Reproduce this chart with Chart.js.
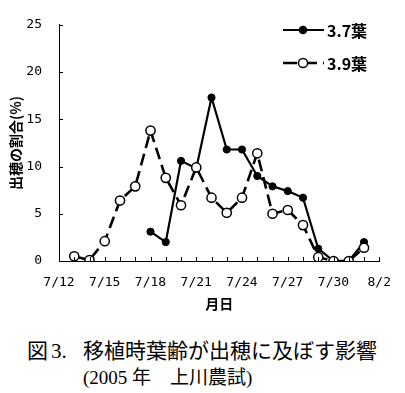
<!DOCTYPE html>
<html>
<head>
<meta charset="utf-8">
<script src="https://cdn.jsdelivr.net/npm/chart.js@4"></script>
<style>
body { margin: 0; background: #fff; width: 405px; height: 393px; position: relative; overflow: hidden; }
#wrap { position: absolute; left: 0; top: 0; width: 405px; height: 320px; }
.cap { position: absolute; color: #000; white-space: pre; line-height: 1; font-family: "Liberation Serif", "Noto Sans CJK JP", serif; }
</style>
</head>
<body>
<div id="wrap"><canvas id="chart"></canvas></div>
<div class="cap" style="left:27px;top:341px;font-size:21px">図</div>
<div class="cap" style="left:51px;top:341px;font-size:21px">3.</div>
<div class="cap" style="left:83px;top:341px;font-size:21px">移植時葉齢が出穂に及ぼす影響</div>
<div class="cap" style="left:83px;top:368px;font-size:19px">(2005 年　上川農試)</div>
<script>
// dates of observation (month/day)
const dateLabels = ['7/13', '7/14', '7/15', '7/16', '7/17', '7/18', '7/19', '7/20', '7/21', '7/22',
                    '7/23', '7/24', '7/25', '7/26', '7/27', '7/28', '7/29', '7/30', '7/31', '8/1'];
// share of heading (%) per day
const leaf37 = [null, null, null, null, null, 3.1, 2.0, 10.6, 9.8, 17.3,
                11.8, 11.8, 9.0, 7.9, 7.4, 6.7, 1.3, 0, 0, 2.0];
const leaf39 = [0.5, 0.1, 2.1, 6.4, 7.9, 13.8, 8.8, 5.9, 9.9, 6.7,
                5.1, 6.7, 11.4, 5.0, 5.4, 3.8, 0.4, 0, 0, 1.4];
const xTickLabels = ['7/12', '7/15', '7/18', '7/21', '7/24', '7/27', '7/30', '8/2'];
const yTicks = [0, 5, 10, 15, 20, 25];
const seriesNames = ['3.7葉', '3.9葉'];

// month/day -> day number counted from July 1st
function toDay(label) {
    const parts = label.split('/').map(Number);
    return parts[0] === 7 ? parts[1] : 31 + parts[1];
}

function toPoints(values) {
    return dateLabels.map((d, i) => ({ x: toDay(d), y: values[i] }));
}

const tickFont = { family: 'DejaVu Sans Mono', size: 13 };

// inward tick marks and the hand drawn legend
const extras = {
    id: 'extras',
    afterDraw(chart) {
        const { ctx, chartArea, scales } = chart;
        const x = scales.x, y = scales.y;
        ctx.save();
        ctx.strokeStyle = '#000';
        ctx.lineWidth = 1;
        ctx.beginPath();
        for (let d = x.min; d <= x.max; d++) {
            const px = Math.round(x.getPixelForValue(d)) + 0.5;
            ctx.moveTo(px, chartArea.bottom);
            ctx.lineTo(px, chartArea.bottom - 4);
        }
        yTicks.forEach(v => {
            const py = Math.round(y.getPixelForValue(v)) + 0.5;
            ctx.moveTo(chartArea.left, py);
            ctx.lineTo(chartArea.left + 4, py);
        });
        ctx.stroke();

        // legend
        const rows = [
            { y: 30, dash: [], r: 3.6, fill: '#000', width: 2.2 },
            { y: 63, dash: [14, 6], r: 4.6, fill: '#fff', width: 2.6 }
        ];
        rows.forEach((row, i) => {
            ctx.beginPath();
            ctx.setLineDash(row.dash);
            ctx.lineWidth = row.width;
            ctx.moveTo(283, row.y);
            ctx.lineTo(324, row.y);
            ctx.stroke();
            ctx.setLineDash([]);
            ctx.beginPath();
            ctx.arc(303, row.y, row.r, 0, Math.PI * 2);
            ctx.fillStyle = row.fill;
            ctx.fill();
            ctx.lineWidth = 1.5;
            ctx.stroke();
            ctx.fillStyle = '#000';
            ctx.font = 'bold 16px "Noto Sans CJK JP"';
            ctx.textBaseline = 'middle';
            ctx.fillText(seriesNames[i], 327, row.y + 1);
        });
        ctx.restore();
    }
};

new Chart(document.getElementById('chart'), {
    type: 'line',
    data: {
        datasets: [
            {
                label: seriesNames[0],
                data: toPoints(leaf37),
                borderColor: '#000',
                borderWidth: 2.2,
                pointRadius: 3.6,
                pointBackgroundColor: '#000',
                pointBorderColor: '#000',
                pointBorderWidth: 1,
                spanGaps: false,
                order: 1
            },
            {
                label: seriesNames[1],
                data: toPoints(leaf39),
                borderColor: '#000',
                borderWidth: 2.6,
                borderDash: [12, 6],
                pointRadius: 4.6,
                pointBackgroundColor: '#fff',
                pointBorderColor: '#000',
                pointBorderWidth: 1.5,
                order: 0
            }
        ]
    },
    options: {
        responsive: true,
        maintainAspectRatio: false,
        animation: false,
        layout: { padding: { top: 14, right: 21, left: 0, bottom: 0 } },
        plugins: {
            legend: { display: false },
            tooltip: { enabled: false }
        },
        scales: {
            x: {
                type: 'linear',
                min: toDay(xTickLabels[0]),
                max: toDay(xTickLabels[xTickLabels.length - 1]),
                afterFit: scale => { scale.height = 59; },
                grid: { display: true, drawOnChartArea: false, drawTicks: false, tickLength: 0 },
                border: { display: true, color: '#000', width: 1 },
                ticks: {
                    stepSize: 1,
                    autoSkip: false,
                    maxRotation: 0,
                    padding: 14,
                    color: '#000',
                    font: tickFont,
                    callback: v => {
                        const hit = xTickLabels.find(l => toDay(l) === v);
                        return hit || '';
                    }
                },
                title: {
                    display: true,
                    text: '月日',
                    color: '#000',
                    font: { family: 'Noto Sans CJK JP', size: 14, weight: 'bold' },
                    padding: { top: 0, bottom: 8 }
                }
            },
            y: {
                min: 0,
                max: 25,
                afterFit: scale => { scale.width = 59; },
                grid: { display: true, drawOnChartArea: false, drawTicks: false, tickLength: 0 },
                border: { display: true, color: '#000', width: 1 },
                ticks: {
                    stepSize: 5,
                    padding: 17,
                    color: '#000',
                    font: tickFont
                },
                title: {
                    display: true,
                    text: '出穂の割合(%)',
                    color: '#000',
                    font: { family: 'Noto Sans CJK JP', size: 14, weight: 'bold' },
                    padding: { top: 7, bottom: 0 }
                }
            }
        }
    },
    plugins: [extras]
});
</script>
</body>
</html>
